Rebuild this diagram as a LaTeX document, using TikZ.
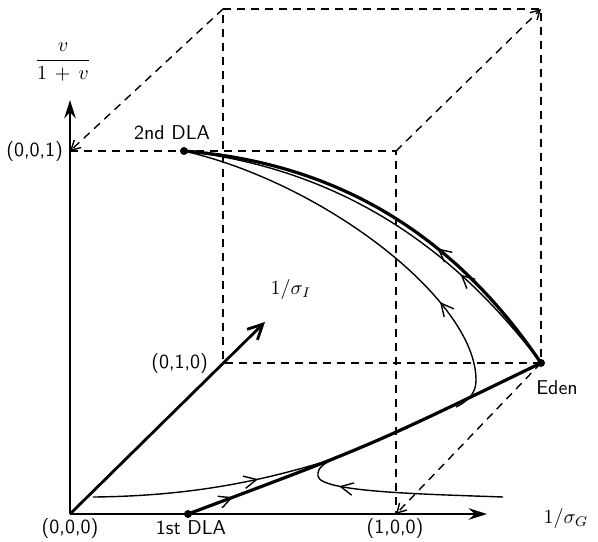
\documentclass[tikz,border=0pt]{standalone}
\usepackage{amsmath}
\usetikzlibrary{arrows.meta,decorations.markings}

\tikzset{
  cube/.style={dash pattern=on 4pt off 3pt, line width=0.7pt},
  cubetip/.style={cube, -{Straight Barb[length=1.6mm,width=1.8mm]}},
  axis/.style={line width=1.4pt},
  flowthick/.style={line width=1.6pt},
  flowthin/.style={line width=0.7pt},
  flowmark/.style={postaction={decorate},
    decoration={markings, mark=at position #1 with {\arrow{Straight Barb[length=2.2mm,width=2.2mm,line width=0.7pt]}}}},
  lbl/.style={font=\sffamily},
}

\begin{document}
\begin{tikzpicture}[x=0.5pt, y=-0.5pt]
    \useasboundingbox (0,0) rectangle (598,541);

    % corners of the unit cube
    \coordinate (o)   at (70,514);
    \coordinate (x1)  at (396,514);
    \coordinate (y1)  at (223,363);
    \coordinate (z1)  at (70,151);
    \coordinate (xz)  at (396,151);
    \coordinate (yz)  at (223,9);
    \coordinate (xyz) at (541,9);
    \coordinate (eden) at (541,363);

    % fixed points
    \coordinate (dla1) at (188,514);
    \coordinate (dla2) at (184,151);

    % Wuerfel (gestrichelt)
    \draw[cube] (z1) -- (xz) -- (x1);
    \draw[cube] (yz) -- (xyz) -- (eden) -- (y1) -- (yz);
    \draw[cubetip] (yz) -- (z1);
    \draw[cubetip] (xz) -- (xyz);
    \draw[cubetip] (eden) -- (x1);

    % Achsen
    \coordinate (ztip) at (70,100);
    \coordinate (xtip) at (487,514);
    \coordinate (ytip) at (265,322);
    \draw[axis, -{Stealth[length=3.2mm,width=2mm]}] (o) -- (ztip);
    \draw[axis, -{Stealth[length=3.2mm,width=2mm]}] (o) -- (xtip);
    \draw[axis, -{Straight Barb[length=2.6mm,width=2.6mm]}] (o) -- (ytip);

    \node (zlab) at (63,62) {$\dfrac{v}{1\,+\,v}$};
    \node (ylab) at (291,289) {$1/\sigma_I$};
    \node (xlab) at (566,518) {$1/\sigma_G$};

    % Beschriftung der Ecken
    \node[lbl, anchor=east] (z1lab) at (z1) {(0,0,1)};
    \node[lbl, anchor=east] (y1lab) at (215,363) {(0,1,0)};
    \node[lbl] (olab) at (70,528) {(0,0,0)};
    \node[lbl] (x1lab) at (395,528) {(1,0,0)};

    % Fixpunkte
    \node[lbl] (dla1lab) at (191,528) {1st DLA};
    \node[lbl] (dla2lab) at (172,133) {2nd DLA};
    \node[lbl] (edenlab) at (557,388) {Eden};

    % Trajektorien
    \coordinate (join1) at (327,461);
    \coordinate (join2) at (336,458);
    \coordinate (join3) at (456,407);
    \coordinate (start1) at (93,497);
    \coordinate (start2) at (503,497);
    \draw[flowthick, flowmark=0.125] (dla1) .. controls (370,446) .. (eden);
    \draw[flowthin, flowmark=0.7] (start1) .. controls (200,496) and (270,478) .. (join1);
    \draw[flowthin, flowmark=0.76] (start2) .. controls (420,494) and (320,492) .. (318,476)
        .. controls (317,467) and (325,463) .. (join2);
    \draw[flowthin, flowmark=0.29] (join3) .. controls (470,400) and (476,392) .. (476,380)
        .. controls (476,300) and (324,183) .. (dla2);
    \draw[flowthin, flowmark=0.28] (eden) .. controls (466,264) and (358,171) .. (dla2);
    \draw[flowthick, flowmark=0.36] (eden) .. controls (471,260) and (364,165) .. (dla2);

    \fill (dla1) circle[radius=4];
    \fill (dla2) circle[radius=4];
    \fill (eden) circle[radius=4];
\end{tikzpicture}
\end{document}
